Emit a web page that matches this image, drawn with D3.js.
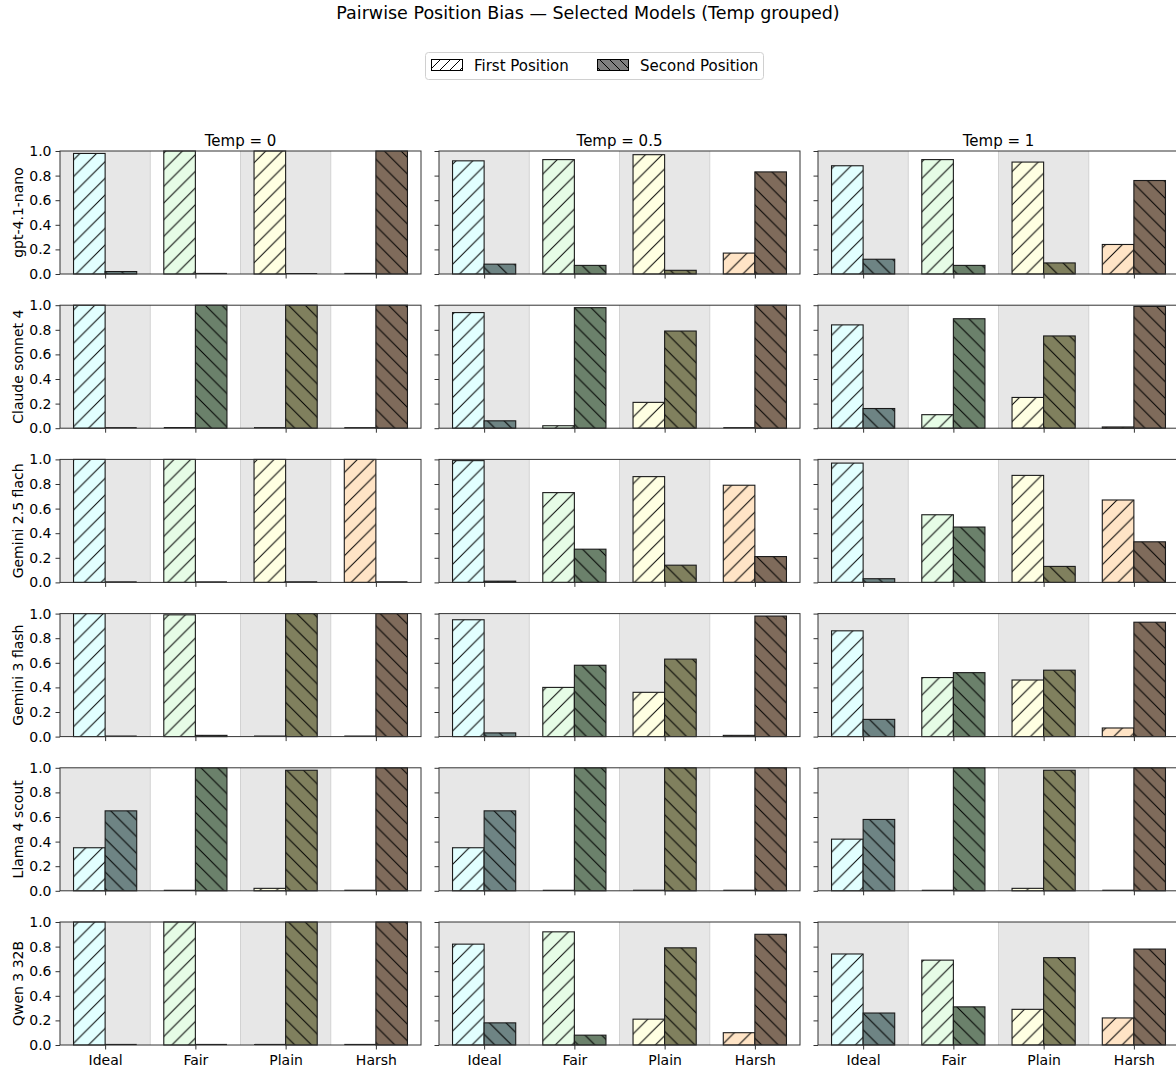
<!DOCTYPE html>
<html>
<head>
<meta charset="utf-8">
<script src="https://cdn.jsdelivr.net/npm/d3@7"></script>
<style>
  html, body { margin: 0; padding: 0; background: #fff; }
  svg text { font-family: "DejaVu Sans", sans-serif; fill: #000; }
</style>
</head>
<body>
<svg id="chart" width="1176" height="1071"></svg>
<script>
// ---------- data ----------
const models = ["gpt-4.1-nano", "Claude sonnet 4", "Gemini 2.5 flach", "Gemini 3 flash", "Llama 4 scout", "Qwen 3 32B"];
const temps = ["0", "0.5", "1"];
const categories = ["Ideal", "Fair", "Plain", "Harsh"];
const seriesNames = ["First Position", "Second Position"];
const yTicks = [0, 0.2, 0.4, 0.6, 0.8, 1.0];

// one row per model, values per category (Ideal, Fair, Plain, Harsh)
const firstT0 = [
  [0.98, 1.00, 1.00, 0.00],
  [1.00, 0.00, 0.00, 0.00],
  [1.00, 1.00, 1.00, 1.00],
  [1.00, 0.99, 0.00, 0.00],
  [0.35, 0.00, 0.02, 0.00],
  [1.00, 1.00, 0.00, 0.00]
];
const secondT0 = [
  [0.02, 0.00, 0.00, 1.00],
  [0.00, 1.00, 1.00, 1.00],
  [0.00, 0.00, 0.00, 0.00],
  [0.00, 0.01, 1.00, 1.00],
  [0.65, 1.00, 0.98, 1.00],
  [0.00, 0.00, 1.00, 1.00]
];
const firstT05 = [
  [0.92, 0.93, 0.97, 0.17],
  [0.94, 0.02, 0.21, 0.00],
  [0.99, 0.73, 0.86, 0.79],
  [0.95, 0.40, 0.36, 0.01],
  [0.35, 0.00, 0.00, 0.00],
  [0.82, 0.92, 0.21, 0.10]
];
const secondT05 = [
  [0.08, 0.07, 0.03, 0.83],
  [0.06, 0.98, 0.79, 1.00],
  [0.01, 0.27, 0.14, 0.21],
  [0.03, 0.58, 0.63, 0.98],
  [0.65, 1.00, 1.00, 1.00],
  [0.18, 0.08, 0.79, 0.90]
];
const firstT1 = [
  [0.88, 0.93, 0.91, 0.24],
  [0.84, 0.11, 0.25, 0.01],
  [0.97, 0.55, 0.87, 0.67],
  [0.86, 0.48, 0.46, 0.07],
  [0.42, 0.00, 0.02, 0.00],
  [0.74, 0.69, 0.29, 0.22]
];
const secondT1 = [
  [0.12, 0.07, 0.09, 0.76],
  [0.16, 0.89, 0.75, 0.99],
  [0.03, 0.45, 0.13, 0.33],
  [0.14, 0.52, 0.54, 0.93],
  [0.58, 1.00, 0.98, 1.00],
  [0.26, 0.31, 0.71, 0.78]
];
const firstByTemp = [firstT0, firstT05, firstT1];
const secondByTemp = [secondT0, secondT05, secondT1];

// colours per category
const firstColors = ["#e2ffff", "#e6fce6", "#ffffe2", "#ffe4c6"];
const secondColors = ["#6e8484", "#6b816b", "#80805e", "#7f6b5b"];

// ---------- layout ----------
const svg = d3.select("#chart");
const colX0 = [60, 439, 818];
const colW = 361;
const rowTop0 = 151, rowStep = 154.2, rowH = 123;
const barW = 0.35;
const hatchStep = 16.67;

// hatch patterns
const defs = svg.append("defs");
function hatch(id, dir, step, sw) {
  const p = defs.append("pattern").attr("id", id)
    .attr("patternUnits", "userSpaceOnUse")
    .attr("width", step).attr("height", step);
  const s = step;
  const d = dir === "/"
    ? `M0,${s} L${s},0 M${-s/2},${s/2} L${s/2},${-s/2} M${s/2},${s*1.5} L${s*1.5},${s/2}`
    : `M0,0 L${s},${s} M${-s/2},${s/2} L${s/2},${s*1.5} M${s/2},${-s/2} L${s*1.5},${s/2}`;
  p.append("path").attr("d", d).attr("stroke", "#000").attr("stroke-width", sw).attr("fill", "none");
}
hatch("hFwd", "/", hatchStep, 1.0);
hatch("hBack", "\\", hatchStep, 1.0);
hatch("hFwdLeg", "/", 10, 1.0);
hatch("hBackLeg", "\\", 10, 1.0);

// title
svg.append("text").attr("x", 588).attr("y", 19).attr("text-anchor", "middle")
  .style("font-size", "17.5px").text("Pairwise Position Bias — Selected Models (Temp grouped)");

// legend
const leg = svg.append("g");
leg.append("rect").attr("x", 425.5).attr("y", 52.5).attr("width", 338).attr("height", 27)
  .attr("rx", 3).attr("fill", "#fff").attr("stroke", "#d0d0d0").attr("stroke-width", 1);
const legItems = [
  {name: seriesNames[0], x: 431, fill: "#ffffff", pat: "hFwdLeg"},
  {name: seriesNames[1], x: 597, fill: "#808080", pat: "hBackLeg"}
];
legItems.forEach(it => {
  leg.append("rect").attr("x", it.x + 0.5).attr("y", 59.5).attr("width", 31).attr("height", 11)
    .attr("fill", it.fill);
  leg.append("rect").attr("x", it.x + 0.5).attr("y", 59.5).attr("width", 31).attr("height", 11)
    .attr("fill", `url(#${it.pat})`).attr("stroke", "#000").attr("stroke-width", 1);
  leg.append("text").attr("x", it.x + 43).attr("y", 70.5).style("font-size", "15px").text(it.name);
});

// panels
models.forEach((model, r) => {
  const top = rowTop0 + r * rowStep;
  const bottom = top + rowH;
  const y = d3.scaleLinear().domain([0, 1]).range([bottom, top]);
  temps.forEach((t, c) => {
    const x0 = colX0[c];
    const x = d3.scaleLinear().domain([-0.5, 3.5]).range([x0, x0 + colW]);
    const g = svg.append("g");

    // alternating bands
    categories.forEach((cat, i) => {
      if (i % 2 === 0) {
        g.append("rect").attr("x", x(i - 0.5)).attr("y", top)
          .attr("width", x(i + 0.5) - x(i - 0.5)).attr("height", rowH)
          .attr("fill", "#e7e7e7");
        [i - 0.5, i + 0.5].forEach(e => {
          if (e > -0.5 && e < 3.5)
            g.append("line").attr("x1", x(e)).attr("x2", x(e)).attr("y1", top).attr("y2", bottom)
              .attr("stroke", "#d2d2d2").attr("stroke-width", 1);
        });
      }
    });

    const firstVals = firstByTemp[c][r];
    const secondVals = secondByTemp[c][r];
    const bars = [];
    categories.forEach((cat, i) => {
      bars.push({x: i - barW, v: firstVals[i], fill: firstColors[i], pat: "hFwd"});
      bars.push({x: i, v: secondVals[i], fill: secondColors[i], pat: "hBack"});
    });
    bars.forEach(b => {
      const bx = x(b.x), bw = x(b.x + barW) - x(b.x);
      const by = y(b.v), bh = y(0) - y(b.v);
      if (bh < 0.5) {
        g.append("line").attr("x1", bx).attr("x2", bx + bw).attr("y1", y(0) - 0.5).attr("y2", y(0) - 0.5)
          .attr("stroke", "#1a1a1a").attr("stroke-width", 1.2);
        return;
      }
      g.append("rect").attr("x", bx).attr("y", by).attr("width", bw).attr("height", bh)
        .attr("fill", b.fill);
      g.append("rect").attr("x", bx).attr("y", by).attr("width", bw).attr("height", bh)
        .attr("fill", `url(#${b.pat})`).attr("stroke", "#1a1a1a").attr("stroke-width", 1.1);
    });

    // frame
    g.append("rect").attr("x", x0).attr("y", top).attr("width", colW).attr("height", rowH)
      .attr("fill", "none").attr("stroke", "#333").attr("stroke-width", 1);

    // y axis
    const ya = d3.axisLeft(y).tickValues(yTicks).tickSize(4.5).tickPadding(4)
      .tickFormat(c === 0 ? d3.format(".1f") : () => "");
    const yg = g.append("g").attr("transform", `translate(${x0},0)`).call(ya);
    yg.select(".domain").remove();
    yg.selectAll("line").attr("stroke", "#333");
    yg.selectAll("text").style("font-size", "14px").style("font-family", "DejaVu Sans");

    // x axis
    const xa = d3.axisBottom(x).tickValues(d3.range(categories.length)).tickSize(4.5).tickPadding(5.5)
      .tickFormat(r === models.length - 1 ? (d => categories[d]) : () => "");
    const xg = g.append("g").attr("transform", `translate(0,${bottom})`).call(xa);
    xg.select(".domain").remove();
    xg.selectAll("line").attr("stroke", "#333");
    xg.selectAll("text").style("font-size", "14px").style("font-family", "DejaVu Sans");

    // column titles
    if (r === 0) {
      g.append("text").attr("x", x0 + colW / 2).attr("y", top - 5).attr("text-anchor", "middle")
        .style("font-size", "15px").text(`Temp = ${t}`);
    }
    // row labels
    if (c === 0) {
      g.append("text").attr("transform", `translate(23,${(top + bottom) / 2}) rotate(-90)`)
        .attr("text-anchor", "middle").style("font-size", "14px").text(model);
    }
  });
});
</script>
</body>
</html>
